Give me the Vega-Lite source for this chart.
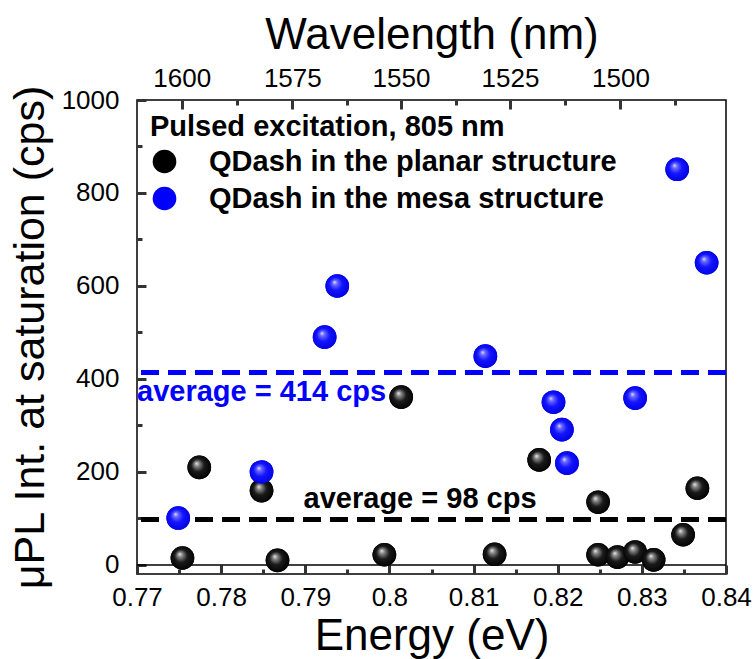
{
  "$schema": "https://vega.github.io/schema/vega-lite/v6.json",
  "width": 589,
  "height": 474,
  "autosize": "none",
  "padding": {"left": 137, "top": 100, "right": 27, "bottom": 85},
  "background": "white",
  "config": {
    "view": {"stroke": "black", "strokeWidth": 1.5},
    "font": "Liberation Sans",
    "axis": {"labelFont": "Liberation Sans", "titleFont": "Liberation Sans", "labelColor": "black", "titleColor": "black", "titleFontWeight": "normal", "grid": false, "domain": false, "labelFlush": false, "labelOverlap": false, "labelBound": false, "labelFontSize": 26, "titleFontSize": 44}
  },
  "datasets": {
    "pts": [
      {"e": 0.7754, "v": 15, "s": "QDash in the planar structure"},
      {"e": 0.7774, "v": 210, "s": "QDash in the planar structure"},
      {"e": 0.7848, "v": 160, "s": "QDash in the planar structure"},
      {"e": 0.7867, "v": 10, "s": "QDash in the planar structure"},
      {"e": 0.7994, "v": 22, "s": "QDash in the planar structure"},
      {"e": 0.8014, "v": 361, "s": "QDash in the planar structure"},
      {"e": 0.8125, "v": 23, "s": "QDash in the planar structure"},
      {"e": 0.8178, "v": 226, "s": "QDash in the planar structure"},
      {"e": 0.8248, "v": 135, "s": "QDash in the planar structure"},
      {"e": 0.8248, "v": 22, "s": "QDash in the planar structure"},
      {"e": 0.8271, "v": 17, "s": "QDash in the planar structure"},
      {"e": 0.8292, "v": 28, "s": "QDash in the planar structure"},
      {"e": 0.8314, "v": 11, "s": "QDash in the planar structure"},
      {"e": 0.8349, "v": 65, "s": "QDash in the planar structure"},
      {"e": 0.8366, "v": 165, "s": "QDash in the planar structure"},
      {"e": 0.7749, "v": 101, "s": "QDash in the mesa structure"},
      {"e": 0.7848, "v": 200, "s": "QDash in the mesa structure"},
      {"e": 0.7923, "v": 490, "s": "QDash in the mesa structure"},
      {"e": 0.7938, "v": 600, "s": "QDash in the mesa structure"},
      {"e": 0.8114, "v": 449, "s": "QDash in the mesa structure"},
      {"e": 0.8195, "v": 350, "s": "QDash in the mesa structure"},
      {"e": 0.8205, "v": 291, "s": "QDash in the mesa structure"},
      {"e": 0.8211, "v": 219, "s": "QDash in the mesa structure"},
      {"e": 0.8292, "v": 359, "s": "QDash in the mesa structure"},
      {"e": 0.8342, "v": 851, "s": "QDash in the mesa structure"},
      {"e": 0.8377, "v": 650, "s": "QDash in the mesa structure"}
    ]
  },
  "resolve": {"scale": {"x": "independent"}, "axis": {"x": "independent", "y": "independent"}},
  "layer": [
    {
      "data": {"values": [{"zero": 0}]},
      "mark": {"type": "rule", "color": "black", "strokeWidth": 1.3},
      "encoding": {"y": {"field": "zero", "type": "quantitative", "scale": {"domain": [-19.4, 1000], "nice": false, "zero": false},
        "axis": {"orient": "left", "title": "μPL Int. at saturation (cps)", "titleFontSize": 43, "titlePadding": 9, "offset": -9, "tickSize": 9, "tickColor": "#333333", "tickWidth": 3, "labelPadding": 18,
          "values": [0, 200, 400, 600, 800, 1000], "labelExpr": "toString(datum.value)"}}}
    },
    {
      "data": {"values": [{"avg": 414}]},
      "mark": {"type": "rule", "color": "#0000ff", "strokeWidth": 5, "strokeDash": [18, 9]},
      "encoding": {"y": {"field": "avg", "type": "quantitative",
        "axis": {"orient": "left", "title": null, "labels": false, "offset": -5, "tickSize": 5, "tickColor": "#333333", "tickWidth": 3, "values": [100, 300, 500, 700, 900]}}}
    },
    {
      "data": {"values": [{"avg": 98}]},
      "mark": {"type": "rule", "color": "black", "strokeWidth": 5, "strokeDash": [18, 9]},
      "encoding": {"y": {"field": "avg", "type": "quantitative", "axis": null}}
    },
    {
      "data": {"name": "pts"},
      "mark": {"type": "point", "filled": true, "shape": "circle", "size": 560, "opacity": 1, "strokeWidth": 0},
      "encoding": {
        "x": {"field": "e", "type": "quantitative", "scale": {"domain": [0.77, 0.84], "nice": false, "zero": false},
          "axis": {"orient": "bottom", "title": "Energy (eV)", "titlePadding": 4, "offset": -9, "tickSize": 9, "tickColor": "#333333", "tickWidth": 3, "labelPadding": 10,
            "values": [0.77, 0.78, 0.79, 0.8, 0.81, 0.82, 0.83, 0.84],
            "labelExpr": "toString(round(datum.value*100)/100)"}},
        "y": {"field": "v", "type": "quantitative", "axis": null},
        "fill": {"field": "s", "type": "nominal",
          "scale": {"domain": ["QDash in the planar structure", "QDash in the mesa structure"], "range": ["black", "#0000ff"]},
          "legend": {"title": "Pulsed excitation, 805 nm", "orient": "top-left", "offset": 13, "padding": 0,
            "titleFont": "Liberation Sans", "titleFontSize": 29, "titleFontWeight": "bold", "titleColor": "black", "titleLimit": 700, "titlePadding": 5,
            "labelFont": "Liberation Sans", "labelFontSize": 29, "labelFontWeight": "bold", "labelColor": "black", "labelLimit": 700, "labelOffset": 30,
            "symbolType": "circle", "symbolSize": 560, "symbolStrokeWidth": 0, "rowPadding": 7}}
      }
    },
    {
      "data": {"name": "pts"},
      "transform": [{"filter": "datum.s == 'QDash in the planar structure'"}],
      "mark": {"type": "point", "filled": true, "shape": "circle", "size": 560, "opacity": 1, "strokeWidth": 0,
        "fill": {"gradient": "radial", "x1": 0.38, "y1": 0.33, "r1": 0, "x2": 0.5, "y2": 0.5, "r2": 0.55,
          "stops": [{"offset": 0, "color": "#f2f2f2"}, {"offset": 0.18, "color": "#8a8a8a"}, {"offset": 0.5, "color": "#1a1a1a"}, {"offset": 1, "color": "#000000"}]}},
      "encoding": {
        "x": {"field": "e", "type": "quantitative", "scale": {"domain": [0.77, 0.84], "nice": false, "zero": false},
          "axis": {"orient": "top", "title": "Wavelength (nm)", "titlePadding": 8, "offset": -9, "tickSize": 9, "tickColor": "#333333", "tickWidth": 3, "labelPadding": 9,
            "values": [0.77531, 0.78846, 0.80138, 0.81433, 0.82746],
            "labelExpr": "toString(round(1240/datum.value/25)*25)"}},
        "y": {"field": "v", "type": "quantitative", "axis": null}
      }
    },
    {
      "data": {"name": "pts"},
      "transform": [{"filter": "datum.s == 'QDash in the mesa structure'"}],
      "mark": {"type": "point", "filled": true, "shape": "circle", "size": 560, "opacity": 1, "strokeWidth": 0,
        "fill": {"gradient": "radial", "x1": 0.38, "y1": 0.33, "r1": 0, "x2": 0.5, "y2": 0.5, "r2": 0.55,
          "stops": [{"offset": 0, "color": "#e6e6ff"}, {"offset": 0.18, "color": "#6a6aff"}, {"offset": 0.5, "color": "#1414ff"}, {"offset": 1, "color": "#0000dd"}]}},
      "encoding": {
        "x": {"field": "e", "type": "quantitative", "scale": {"domain": [0.77, 0.84], "nice": false, "zero": false},
          "axis": {"orient": "bottom", "title": null, "labels": false, "offset": -5, "tickSize": 5, "tickColor": "#333333", "tickWidth": 3, "values": [0.775, 0.785, 0.795, 0.805, 0.815, 0.825, 0.835]}},
        "y": {"field": "v", "type": "quantitative", "axis": null}
      }
    },
    {
      "data": {"values": [{"avg": 414, "label": "average = 414 cps"}]},
      "mark": {"type": "text", "align": "left", "baseline": "top", "dx": 0, "dy": 6, "font": "Liberation Sans", "fontWeight": "bold", "fontSize": 29, "color": "#0000ff"},
      "encoding": {
        "x": {"datum": 0.77, "type": "quantitative", "scale": {"domain": [0.77, 0.84], "nice": false, "zero": false},
          "axis": {"orient": "top", "title": null, "labels": false, "offset": -5, "tickSize": 5, "tickColor": "#333333", "tickWidth": 3, "values": [0.78185, 0.79492, 0.80791, 0.82087, 0.83394]}},
        "y": {"field": "avg", "type": "quantitative", "axis": null},
        "text": {"field": "label"}
      }
    },
    {
      "data": {"values": [{"avg": 98, "label": "average = 98 cps"}]},
      "mark": {"type": "text", "align": "left", "baseline": "alphabetic", "dy": -11, "font": "Liberation Sans", "fontWeight": "bold", "fontSize": 29, "color": "black"},
      "encoding": {
        "x": {"datum": 0.7898, "type": "quantitative", "scale": {"domain": [0.77, 0.84], "nice": false, "zero": false}, "axis": null},
        "y": {"field": "avg", "type": "quantitative", "axis": null},
        "text": {"field": "label"}
      }
    }
  ]
}
